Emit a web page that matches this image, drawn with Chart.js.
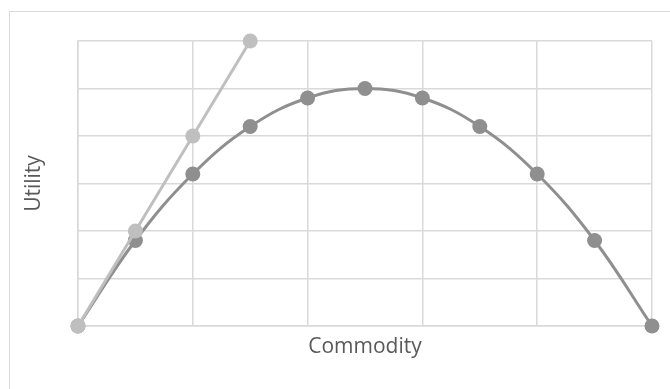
<!DOCTYPE html>
<html>
<head>
<meta charset="utf-8">
<script src="https://cdn.jsdelivr.net/npm/chart.js@4/dist/chart.umd.min.js"></script>
<style>
  html, body { margin: 0; padding: 0; background: #fff; overflow: hidden; }
  #wrap { position: relative; width: 670px; height: 389px; }
  #frame {
    position: absolute; left: 9px; top: 11px; width: 700px; height: 420px;
    border: 1.5px solid #d9d9d9;
  }
  canvas { position: absolute; left: 0; top: 0; }
</style>
</head>
<body>
<div id="wrap">
  <div id="frame"></div>
  <canvas id="utilityChart" width="670" height="389"></canvas>
</div>
<script>
// quantity of the commodity consumed
const units = [0, 1, 2, 3, 4, 5, 6, 7, 8, 9, 10];
const totalUtility = [0, 1.8, 3.2, 4.2, 4.8, 5, 4.8, 4.2, 3.2, 1.8, 0];

// steeper curve, only the first few units
const steepUnits = [0, 1, 2, 3];
const steepUtility = [0, 2, 4, 6];

const toPoints = (xs, ys) => xs.map((x, i) => ({ x: x, y: ys[i] }));

const gridColor = '#d9d9d9';
const textColor = '#595959';
const titleFont = { family: "'Open Sans', sans-serif", size: 21 };

new Chart(document.getElementById('utilityChart'), {
  type: 'scatter',
  data: {
    datasets: [{
      label: 'Steep',
      data: toPoints(steepUnits, steepUtility),
      showLine: true,
      tension: 0.4,
      borderColor: '#bfbfbf',
      backgroundColor: '#bfbfbf',
      borderWidth: 3,
      pointRadius: 7.5,
      pointBorderWidth: 0,
      clip: false,
      order: 0
    }, {
      label: 'Total',
      data: toPoints(units, totalUtility),
      showLine: true,
      tension: 0.4,
      borderColor: '#8f8f8f',
      backgroundColor: '#8f8f8f',
      borderWidth: 3,
      pointRadius: 7.5,
      pointBorderWidth: 0,
      clip: false,
      order: 1
    }]
  },
  options: {
    responsive: false,
    animation: false,
    layout: {
      autoPadding: false,
      padding: { top: 41, right: 18, left: 0, bottom: 0 }
    },
    plugins: {
      legend: { display: false },
      tooltip: { enabled: false }
    },
    scales: {
      x: {
        type: 'linear',
        min: 0,
        max: 10,
        afterFit: (scale) => { scale.height = 63; },
        ticks: { display: false, stepSize: 2 },
        grid: { color: gridColor, lineWidth: 1.5, drawTicks: false },
        border: { color: gridColor, width: 1.5 },
        title: {
          display: true,
          text: 'Commodity',
          color: textColor,
          font: titleFont,
          padding: { top: 0, bottom: 29 }
        }
      },
      y: {
        min: 0,
        max: 6,
        afterFit: (scale) => { scale.width = 78; },
        ticks: { display: false, stepSize: 1 },
        grid: { color: gridColor, lineWidth: 1.5, drawTicks: false },
        border: { color: gridColor, width: 1.5 },
        title: {
          display: true,
          text: 'Utility',
          color: textColor,
          font: titleFont,
          padding: { top: 21, bottom: 0 }
        }
      }
    }
  }
});
</script>
</body>
</html>
